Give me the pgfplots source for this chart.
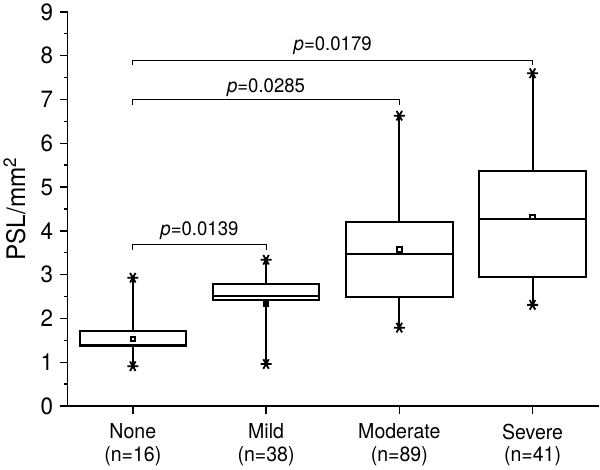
\documentclass[border=0pt]{standalone}
\usepackage{pgfplots}
\pgfplotsset{compat=1.18}
\usepgfplotslibrary{statistics}
\usepackage{fontspec}
\setmainfont{TeX Gyre Heros}[FakeStretch=0.95]
\begin{document}
\begin{tikzpicture}
\begin{axis}[
  scale only axis,
  width=530pt, height=393pt,
  xmin=-0.49, xmax=3.5,
  ymin=0, ymax=9,
  axis x line*=bottom, axis y line*=left,
  axis line style={line width=1.7pt, -},
  xtick={0,1,2,3},
  xticklabels={{None\\(n=16)},{Mild\\(n=38)},{Moderate\\(n=89)},{Severe\\(n=41)}},
  xticklabel style={align=center, font=\fontsize{20.5}{22.5}\selectfont, yshift=-6pt},
  ytick={0,1,...,9},
  minor y tick num=1,
  tick align=outside,
  major tick length=8pt, minor tick length=4pt,
  every tick/.style={black, line width=1.4pt},
  /pgf/number format/assume math mode=true,
  yticklabel style={font=\fontsize{23.5}{26}\selectfont, xshift=-3pt},
  ylabel={PSL/mm\textsuperscript{2}},
  ylabel style={font=\fontsize{25.5}{28}\selectfont, yshift=8pt},
  clip=false,
  boxplot/draw direction=y,
  boxplot/box extend=0.8,
  boxplot/whisker extend=0,
  boxplot/every box/.style={draw=black, line width=2pt, fill=white},
  boxplot/every whisker/.style={black, line width=2pt},
  boxplot/every median/.style={black, line width=2pt},
  boxplot/every average/.style={/tikz/mark=square, /tikz/mark size=2.3pt, /tikz/mark options={black, line width=1.4pt, fill=white}},
]
\addplot[black, line width=2pt, boxplot prepared={draw position=0, lower whisker=0.91, lower quartile=1.38, median=1.39, upper quartile=1.72, upper whisker=2.93, average=1.53}] coordinates {};
\addplot[black, line width=2pt, boxplot prepared={draw position=1, lower whisker=0.96, lower quartile=2.43, median=2.51, upper quartile=2.79, upper whisker=3.34, average=2.34}] coordinates {};
\addplot[black, line width=2pt, boxplot prepared={draw position=2, lower whisker=1.79, lower quartile=2.49, median=3.48, upper quartile=4.21, upper whisker=6.63, average=3.58}] coordinates {};
\addplot[black, line width=2pt, boxplot prepared={draw position=3, lower whisker=2.31, lower quartile=2.95, median=4.28, upper quartile=5.37, upper whisker=7.60, average=4.32}] coordinates {};
\addplot[only marks, black, mark=asterisk, mark size=5.5pt, mark options={rotate=90, line width=1.8pt}] coordinates {
(0,0.91) (0,2.93) (1,0.96) (1,3.34) (2,1.79) (2,6.63) (3,2.31) (3,7.60)};
\addplot[black, line width=1pt, mark=none] coordinates {(0,3.57) (0,3.69) (1,3.69) (1,3.57)};
\addplot[black, line width=1pt, mark=none] coordinates {(0,6.88) (0,7.00) (2,7.00) (2,6.88)};
\addplot[black, line width=1pt, mark=none] coordinates {(0,7.78) (0,7.90) (3,7.90) (3,7.78)};
\node[anchor=base, font=\fontsize{19.5}{22}\selectfont] at (axis cs:0.5,3.89) {\textit{p}=0.0139};
\node[anchor=base, font=\fontsize{19.5}{22}\selectfont] at (axis cs:1,7.17) {\textit{p}=0.0285};
\node[anchor=base, font=\fontsize{19.5}{22}\selectfont] at (axis cs:1.5,8.12) {\textit{p}=0.0179};
\end{axis}
\end{tikzpicture}
\end{document}
